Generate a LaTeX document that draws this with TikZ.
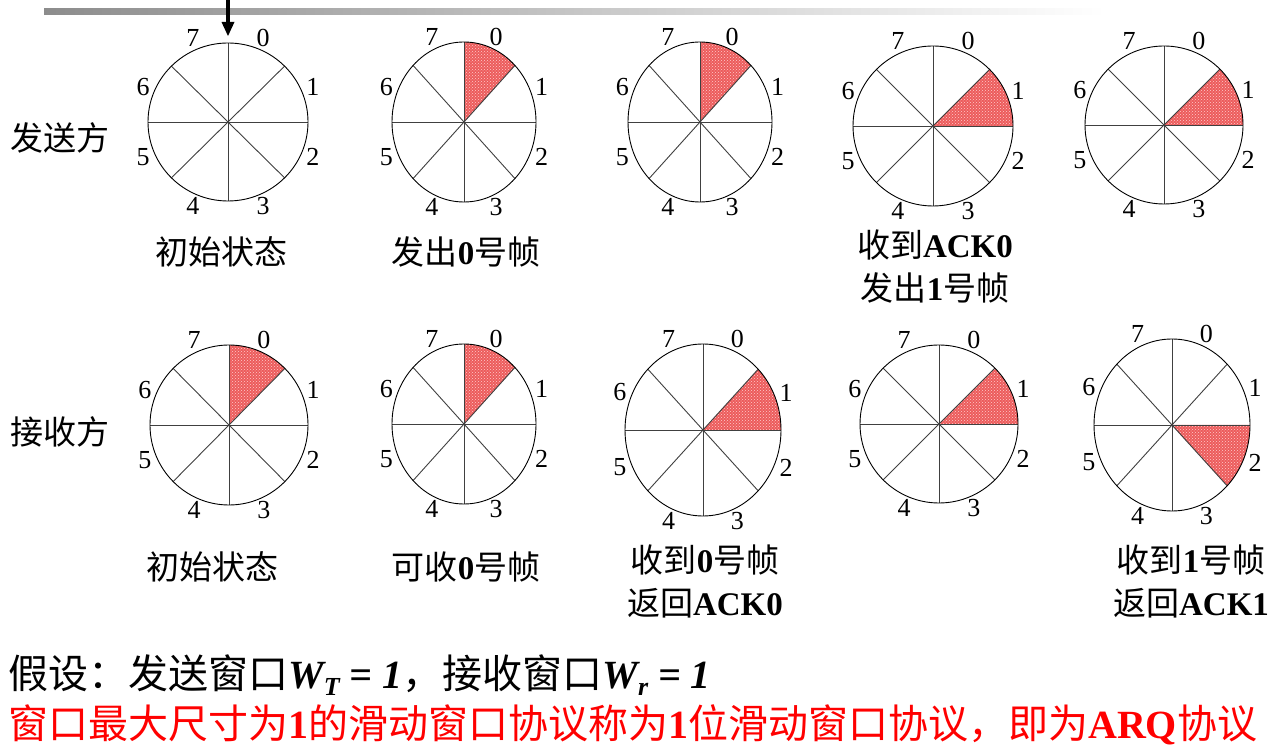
\documentclass[tikz,border=0pt]{standalone}
\usepackage{fontspec}
\setmainfont{Liberation Serif}
\newfontfamily\cjk{Noto Sans CJK SC}
\usetikzlibrary{arrows.meta,patterns}
\newcommand\zh[1]{{\cjk #1}}
\newcommand\wheel[6]{%
  \coordinate (#1) at (#2,#3);
  \ifnum#6>-1
    \fill[sect] (#1) -- ++({90-45*#6}:#4pt and #5pt)
      arc[start angle={90-45*#6}, end angle={45-45*#6}, x radius=#4pt, y radius=#5pt] -- cycle;
  \fi
  \foreach \a in {0,45,...,315} \draw[spoke] (#1) -- ++(\a:#4pt and #5pt);
  \draw[rim] (#1) ellipse[x radius=#4pt, y radius=#5pt];
  \foreach \k in {0,...,7}
    \path (#1) ++({67.5-45*\k}:{#4pt+12pt} and {#5pt+12pt}) node[digit] (#1-\k) {\k};
}
\begin{document}
\begin{tikzpicture}[x=1pt,y=1pt,
  sect/.style={preaction={fill={rgb,255:red,236;green,92;blue,92}}, pattern=crosshatch dots, pattern color=white!80!red},
  spoke/.style={line width=0.9pt, draw=black!75},
  rim/.style={line width=0.9pt, draw=black},
  digit/.style={font=\fontsize{26}{26}\selectfont, inner sep=0pt},
  captxt/.style={font=\fontsize{33}{43}\selectfont, align=center, inner sep=0pt},
  side/.style={font=\fontsize{33}{33}\selectfont\cjk, inner sep=0pt},
  note/.style={font=\fontsize{40}{42}\selectfont, anchor=west, inner sep=0pt},
  shaft/.style={line width=3.5pt, draw=black},
  head/.style={fill=black}]
\useasboundingbox (0,0) rectangle (1281,755);
\fill[white] (0,0) rectangle (1281,755);
\shade[left color=black!45, right color=white] (44,740) rectangle (1105,746);
% top row
\wheel{t1}{228}{633}{80}{79}{-1}
\wheel{t2}{464}{633}{72}{80}{0}
\wheel{t3}{700}{633}{72}{80}{0}
\wheel{t4}{933}{629}{80}{80}{1}
\wheel{t5}{1164}{630}{79}{79}{1}
% bottom row
\wheel{b1}{229}{330}{79}{80}{0}
\wheel{b2}{464}{331}{72}{80}{0}
\wheel{b3}{703}{325}{78}{86}{1}
\wheel{b4}{939}{331}{79}{79}{1}
\wheel{b5}{1172}{330}{78}{86}{2}
% arrow
\coordinate (arrtop) at (228,756);
\coordinate (arrtip) at (228,719);
\draw[shaft] (arrtop) -- ([yshift=10pt]arrtip);
\fill[head] (arrtip) -- ++(-6.5,14) -- ++(13,0) -- cycle;
% side labels
\node[side] (send) at (60,617) {发送方};
\node[side] (recv) at (60,323) {接收方};
% captions
\node[captxt] (c1) at (221,503) {\zh{初始状态}};
\node[captxt] (c2) at (466,503) {\zh{发出}\textbf{0}\zh{号帧}};
\node[captxt, anchor=north] (c4) at (935,525) {\zh{收到}\textbf{ACK0}\\\zh{发出}\textbf{1}\zh{号帧}};
\node[captxt] (d1) at (212,188) {\zh{初始状态}};
\node[captxt] (d2) at (466,188) {\zh{可收}\textbf{0}\zh{号帧}};
\node[captxt, anchor=north] (d3) at (705,210) {\zh{收到}\textbf{0}\zh{号帧}\\\zh{返回}\textbf{ACK0}};
\node[captxt, anchor=north] (d5) at (1191,210) {\zh{收到}\textbf{1}\zh{号帧}\\\zh{返回}\textbf{ACK1}};
% notes
\node[note] (n1) at (8,80) {\zh{假设：发送窗口}\textbf{\textit{W\raisebox{-0.35ex}{\fontsize{26}{26}\selectfont T} = 1}}\zh{，接收窗口}\textbf{\textit{W\raisebox{-0.35ex}{\fontsize{26}{26}\selectfont r} = 1}}};
\node[note, text=red] (n2) at (8,30) {\zh{窗口最大尺寸为}\textbf{1}\zh{的滑动窗口协议称为}\textbf{1}\zh{位滑动窗口协议，即为}\textbf{ARQ}\zh{协议}};
\end{tikzpicture}
\end{document}
